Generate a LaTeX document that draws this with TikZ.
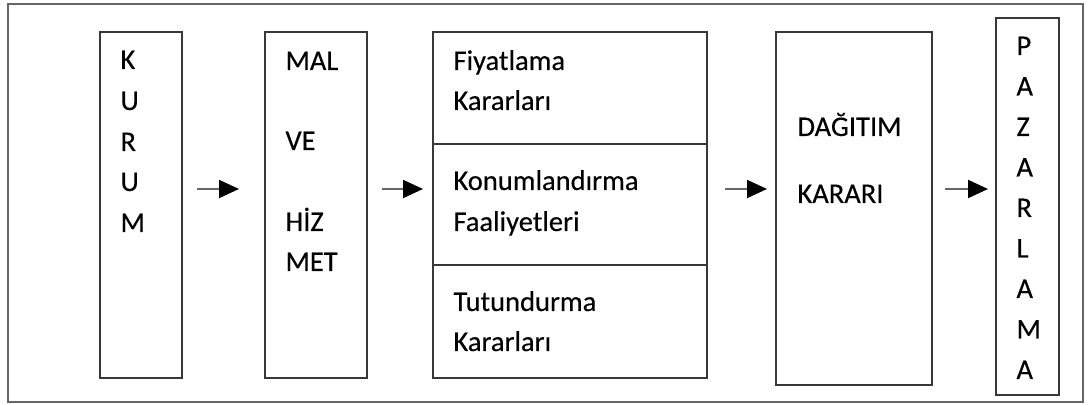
\documentclass[tikz,border=0pt]{standalone}
\usepackage{fontspec}
\setmainfont[FakeBold=0.3]{Carlito}
\usetikzlibrary{arrows.meta,positioning}

\tikzset{
  box/.style={draw=black!78, line width=0.7pt, inner sep=0pt, outer sep=0pt},
  txt/.style={anchor=base west, inner sep=0pt, font=\fontsize{11.4}{16}\selectfont},
  arr/.style={draw=black!60, line width=0.8pt,
    -{Triangle[length=8pt,width=7.2pt,color=black]}},
}

\begin{document}
\begin{tikzpicture}[x=0.4pt,y=-0.4pt]
  \useasboundingbox (0,0) rectangle (1088,405);
  \draw[black!60, line width=0.8pt] (8,4) rectangle (1083,402);

  % boxes
  \node[box, minimum width=32.8pt, minimum height=138.4pt] (kurum) at (141,205) {};
  \node[box, minimum width=40.8pt, minimum height=138.4pt] (mal) at (316,205) {};
  \node[box, minimum width=109.6pt, minimum height=44.8pt] (fiyat) at (570,88) {};
  \node[box, minimum width=109.6pt, minimum height=48.4pt, below=0pt of fiyat] (konum) {};
  \node[box, minimum width=109.6pt, minimum height=45.2pt, below=0pt of konum] (tutun) {};
  \node[box, minimum width=62.4pt, minimum height=141.2pt] (dagitim) at (854,208.5) {};
  \node[box, minimum width=25.2pt, minimum height=150.8pt] (pazar) at (1027.5,206.5) {};

  % texts
  \foreach \l/\y [count=\i] in {K/69,U/110,R/151,U/191,M/232}
    \node[txt] (kurum-\i) at (120,\y) {\l};

  \node[txt] (mal-1) at (285,70) {MAL};
  \node[txt] (mal-2) at (285,150) {VE};
  \node[txt] (mal-3) at (285,231) {HİZ};
  \node[txt] (mal-4) at (285,271) {MET};

  \node[txt] (fiyat-1) at (453,70) {Fiyatlama};
  \node[txt] (fiyat-2) at (453,110) {Kararları};
  \node[txt] (konum-1) at (453,190) {Konumlandırma};
  \node[txt] (konum-2) at (453,231) {Faaliyetleri};
  \node[txt] (tutun-1) at (453,311) {Tutundurma};
  \node[txt] (tutun-2) at (453,351) {Kararları};

  \node[txt] (dagitim-1) at (797,136) {DAĞITIM};
  \node[txt] (dagitim-2) at (797,203) {KARARI};

  \foreach \l [count=\i] in {P,A,Z,A,R,L,A,M,A}
    \node[txt] (pazar-\i) at (1016,{55+40.5*(\i-1)}) {\l};

  % arrows
  \coordinate (ay) at (0,189);
  \draw[arr, shorten <=6pt, shorten >=10.4pt] (kurum.east |- ay) -- (mal.west |- ay);
  \draw[arr, shorten <=6pt, shorten >=4pt] (mal.east |- ay) -- (konum.west |- ay);
  \draw[arr, shorten <=7.2pt, shorten >=3.6pt] (konum.east |- ay) -- (dagitim.west |- ay);
  \draw[arr, shorten <=5.2pt, shorten >=3.2pt] (dagitim.east |- ay) -- (pazar.west |- ay);
\end{tikzpicture}
\end{document}
